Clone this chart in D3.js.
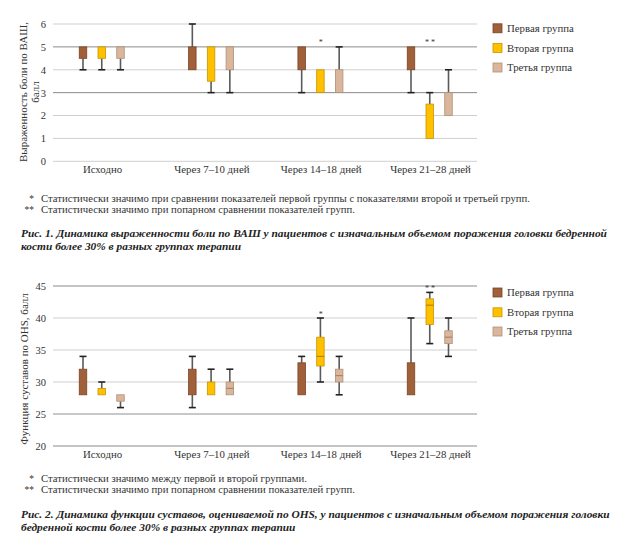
<!DOCTYPE html>
<html><head><meta charset="utf-8">
<script src="https://cdn.jsdelivr.net/npm/d3@7"></script>
<style>
html,body{margin:0;padding:0;background:#fff;}
svg{display:block;}
svg text{font-family:"Liberation Serif","DejaVu Serif",serif;}
</style></head>
<body>
<svg id="c" width="642" height="551"></svg>
<script>
// ---- data ----
const categories = ["Исходно", "Через 7–10 дней", "Через 14–18 дней", "Через 21–28 дней"];
const groups = ["Первая группа", "Вторая группа", "Третья группа"];
// [min, q1, median, q3, max] per category
const vasGroup1 = [[4,4.5,5,5,5],[4,4,5,5,6],[3,4,4,5,5],[3,4,4,5,5]];
const vasGroup2 = [[4,4.5,5,5,5],[3,3.5,5,5,5],[3,3,3,4,4],[1,1,1,2.5,3]];
const vasGroup3 = [[4,4.5,5,5,5],[3,4,4,5,5],[3,3,3,4,5],[2,2,2,3,4]];
const ohsGroup1 = [[28,28,28,32,34],[26,28,28,32,34],[28,28,28,33,34],[28,28,28,33,40]];
const ohsGroup2 = [[28,28,28,29,30],[28,28,28,30,32],[30,32.5,34,37,40],[36,39,42,43,44]];
const ohsGroup3 = [[26,27,27,28,28],[28,28,29,30,32],[28,30,31,32,34],[34,36,37,38,40]];
const vasTicks = [0,1,2,3,4,5,6];
const ohsTicks = [20,25,30,35,40,45];
const vasSig = ["", "", "*", "* *"];
const ohsSig = ["", "", "*", "* *"];
const vasFootnotes = ["Статистически значимо при сравнении показателей первой группы с показателями второй и третьей групп.",
                      "Статистически значимо при попарном сравнении показателей групп."];
const ohsFootnotes = ["Статистически значимо между первой и второй группами.",
                      "Статистически значимо при попарном сравнении показателей групп."];
const vasCaption = ["Рис. 1. Динамика выраженности боли по ВАШ у пациентов с изначальным объемом поражения головки бедренной",
                    "кости более 30% в разных группах терапии"];
const ohsCaption = ["Рис. 2. Динамика функции суставов, оцениваемой по OHS, у пациентов с изначальным объемом поражения головки",
                    "бедренной кости более 30% в разных группах терапии"];

// ---- styles ----
const FONT = "Liberation Serif, DejaVu Serif, serif";
const fills = ["#A0603A", "#FFC000", "#DAB69C"];
const strokes = ["#7a4426", "#c99500", "#b08f78"];
const medians = ["#6e3a1e", "#b88400", "#a8856c"];

const svg = d3.select("#c");

function chart(cfg) {
  const g = svg.append("g").attr("font-family", FONT);
  const y = d3.scaleLinear().domain(cfg.domain).range(cfg.yRange);
  const x = d3.scalePoint().domain(categories).range([102, 430]);
  const off = d3.scalePoint().domain(groups).range([-19, 18.5]);
  const bw = 7.5;

  // gridlines
  g.selectAll("line.grid").data(cfg.ticks).join("line")
    .attr("x1", 53).attr("x2", 477)
    .attr("y1", d => y(d)).attr("y2", d => y(d))
    .attr("stroke", d => cfg.dark.includes(d) ? "#8a8a8a" : (cfg.thick.includes(d) ? "#c8c8c8" : "#cfcfcf"))
    .attr("stroke-width", d => cfg.thick.includes(d) ? 2.2 : 1);

  // y axis labels
  const ax = g.append("g").attr("transform", "translate(46,0)")
    .call(d3.axisLeft(y).tickValues(cfg.ticks).tickFormat(d3.format("d")).tickSize(0).tickPadding(0));
  ax.attr("font-family", FONT);
  ax.select(".domain").remove();
  ax.selectAll("text").attr("font-size", 10.5).attr("fill", "#333");

  // x axis labels
  const xa = g.append("g").attr("transform", `translate(0,${cfg.xLabelY})`)
    .call(d3.axisBottom(x).tickSize(0).tickPadding(0));
  xa.attr("font-family", FONT);
  xa.select(".domain").remove();
  xa.selectAll("text").attr("font-size", 10.8).attr("fill", "#333");

  // y title
  const tl = g.append("text").attr("transform", `translate(${cfg.titleX},${cfg.titleY}) rotate(-90)`)
    .attr("text-anchor", "middle").attr("font-size", 11).attr("fill", "#333");
  cfg.title.forEach((t, i) => tl.append("tspan").attr("x", 0).attr("dy", i === 0 ? 0 : 11.5).text(t));

  // boxes
  cfg.series.forEach((ser, si) => {
    const gg = g.append("g");
    ser.forEach((d, ci) => {
      const cx = x(categories[ci]) + off(groups[si]);
      const [mn, q1, md, q3, mx] = d;
      if (mx > q3) {
        gg.append("line").attr("x1", cx).attr("x2", cx).attr("y1", y(q3)).attr("y2", y(mx)).attr("stroke", "#5a5a5a").attr("stroke-width", 1.6);
        gg.append("line").attr("x1", cx - 3.5).attr("x2", cx + 3.5).attr("y1", y(mx)).attr("y2", y(mx)).attr("stroke", "#222").attr("stroke-width", 1.6);
      }
      if (mn < q1) {
        gg.append("line").attr("x1", cx).attr("x2", cx).attr("y1", y(q1)).attr("y2", y(mn)).attr("stroke", "#5a5a5a").attr("stroke-width", 1.6);
        gg.append("line").attr("x1", cx - 3.5).attr("x2", cx + 3.5).attr("y1", y(mn)).attr("y2", y(mn)).attr("stroke", "#222").attr("stroke-width", 1.6);
      }
      gg.append("rect").attr("x", cx - bw / 2).attr("width", bw)
        .attr("y", y(q3)).attr("height", y(q1) - y(q3))
        .attr("fill", fills[si]).attr("stroke", strokes[si]).attr("stroke-width", 0.8);
      if (md > q1 && md < q3) {
        gg.append("line").attr("x1", cx - bw / 2).attr("x2", cx + bw / 2).attr("y1", y(md)).attr("y2", y(md))
          .attr("stroke", medians[si]).attr("stroke-width", 1.2);
      }
    });
  });

  // significance marks
  cfg.sig.forEach((s, ci) => {
    if (!s) return;
    const top = d3.max(cfg.series, ser => ser[ci][4]);
    g.append("text").attr("x", x(categories[ci])).attr("y", y(top) - 1.5)
      .attr("text-anchor", "middle").attr("font-size", 8).attr("fill", "#333").text(s);
  });

  // legend
  groups.forEach((gr, i) => {
    const cy = cfg.legendY[i];
    g.append("rect").attr("x", 493).attr("y", cy - 4.5).attr("width", 9).attr("height", 9)
      .attr("fill", fills[i]).attr("stroke", strokes[i]).attr("stroke-width", 0.8);
    g.append("text").attr("x", 507).attr("y", cy).attr("dy", "0.35em")
      .attr("font-size", 10.8).attr("fill", "#333").text(gr);
  });

  // footnotes
  const marks = ["*", "**"];
  cfg.footnotes.forEach((t, i) => {
    const fy = cfg.footY + i * 11;
    g.append("text").attr("x", 34).attr("y", fy).attr("text-anchor", "end").attr("font-size", 9.5).attr("fill", "#333").text(marks[i]);
    g.append("text").attr("x", 41).attr("y", fy).attr("font-size", 10.7).attr("fill", "#333").text(t);
  });

  // caption
  cfg.caption.forEach((t, i) => {
    g.append("text").attr("x", 21).attr("y", cfg.capY + i * 12.5)
      .attr("font-size", 11.4).attr("font-weight", "bold").attr("font-style", "italic").attr("fill", "#222").text(t);
  });
}

chart({
  domain: [0, 6], yRange: [161.3, 24], ticks: vasTicks, dark: [3, 5], thick: [],
  xLabelY: 165, titleX: 27, titleY: 92, title: ["Выраженность боли по ВАШ,", "балл"],
  series: [vasGroup1, vasGroup2, vasGroup3], sig: vasSig, legendY: [28.3, 48, 67.5],
  footnotes: vasFootnotes, footY: 201.5, caption: vasCaption, capY: 237
});
chart({
  domain: [20, 45], yRange: [446, 286], ticks: ohsTicks, dark: [20, 45], thick: [25],
  xLabelY: 450, titleX: 28, titleY: 369, title: ["Функция суставов по OHS, балл"],
  series: [ohsGroup1, ohsGroup2, ohsGroup3], sig: ohsSig, legendY: [292.5, 312.3, 331.5],
  footnotes: ohsFootnotes, footY: 481.5, caption: ohsCaption, capY: 518
});
</script>
</body></html>
